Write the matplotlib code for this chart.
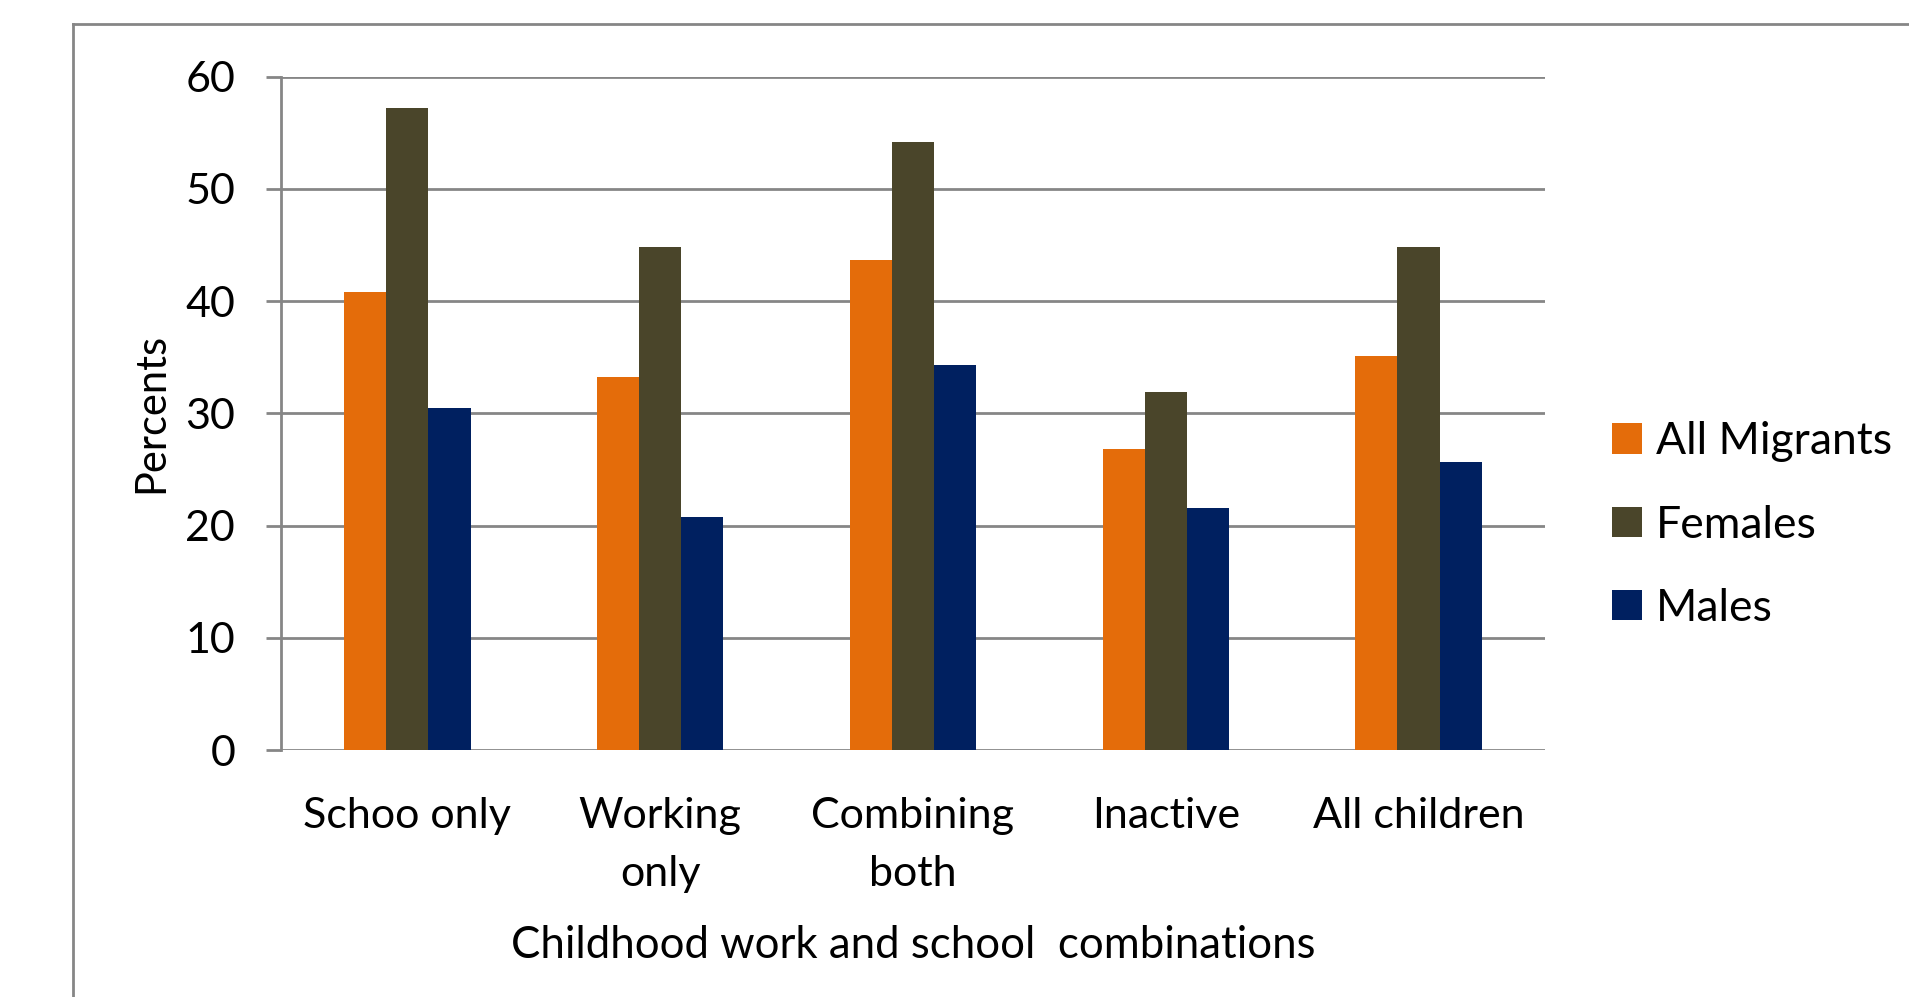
import matplotlib.pyplot as plt
import matplotlib.lines as mlines
import numpy as np

# data
categories = ["Schoo only", "Working\nonly", "Combining\nboth", "Inactive", "All children"]
all_migrants = [40.8, 33.2, 43.7, 26.8, 35.1]
females = [57.2, 44.8, 54.2, 31.9, 44.8]
males = [30.5, 20.8, 34.3, 21.6, 25.7]
series_names = ["All Migrants", "Females", "Males"]
colors = ["#E46C0A", "#4A452A", "#002060"]
grid_grey = "#868686"

plt.rcParams['font.family'] = ['Lato', 'DejaVu Sans']

fig = plt.figure(figsize=(19.09, 9.97), dpi=100)
ax = fig.add_axes([0.1472, 0.2477, 0.8093 - 0.1472, 0.923 - 0.2477])

x = np.arange(len(categories))
w = 0.5 / 3
for i, vals in enumerate([all_migrants, females, males]):
    ax.bar(x + (i - 1) * w, vals, width=w, color=colors[i], label=series_names[i], zorder=3)

ax.set_xlim(-0.5, len(categories) - 0.5)
ax.set_ylim(0, 60)
ax.set_yticks(range(0, 61, 10))
ax.yaxis.grid(True, color=grid_grey, linewidth=2.0, zorder=0)
ax.set_axisbelow(True)

for s in ["top", "right", "bottom"]:
    ax.spines[s].set_visible(False)
ax.spines["left"].set_color(grid_grey)
ax.spines["left"].set_linewidth(2.0)

ax.tick_params(axis="y", length=11, width=2.0, color=grid_grey, pad=22, labelsize=31)
ax.tick_params(axis="x", length=0, pad=34, labelsize=31)
ax.set_xticks(x)
ax.set_xticklabels(categories, linespacing=1.64)

ax.set_ylabel("Percents", fontsize=30, labelpad=11)
ax.set_xlabel("Childhood work and school  combinations", fontsize=31.5, labelpad=23)

ax.legend(loc="center left", bbox_to_anchor=(1612 / 1909, 1 - 525 / 997),
          bbox_transform=fig.transFigure, frameon=False, fontsize=32,
          handlelength=0.68, handleheight=0.68, handletextpad=0.3,
          labelspacing=0.95, borderaxespad=0, borderpad=0)

# outer chart border (cut off at right and bottom)
bx, by = 73 / 1909, 1 - 24 / 997
fig.add_artist(mlines.Line2D([bx, bx], [0, by], color=grid_grey, linewidth=2.0))
fig.add_artist(mlines.Line2D([bx, 1], [by, by], color=grid_grey, linewidth=2.0))

fig.savefig("out.png", dpi=100)
